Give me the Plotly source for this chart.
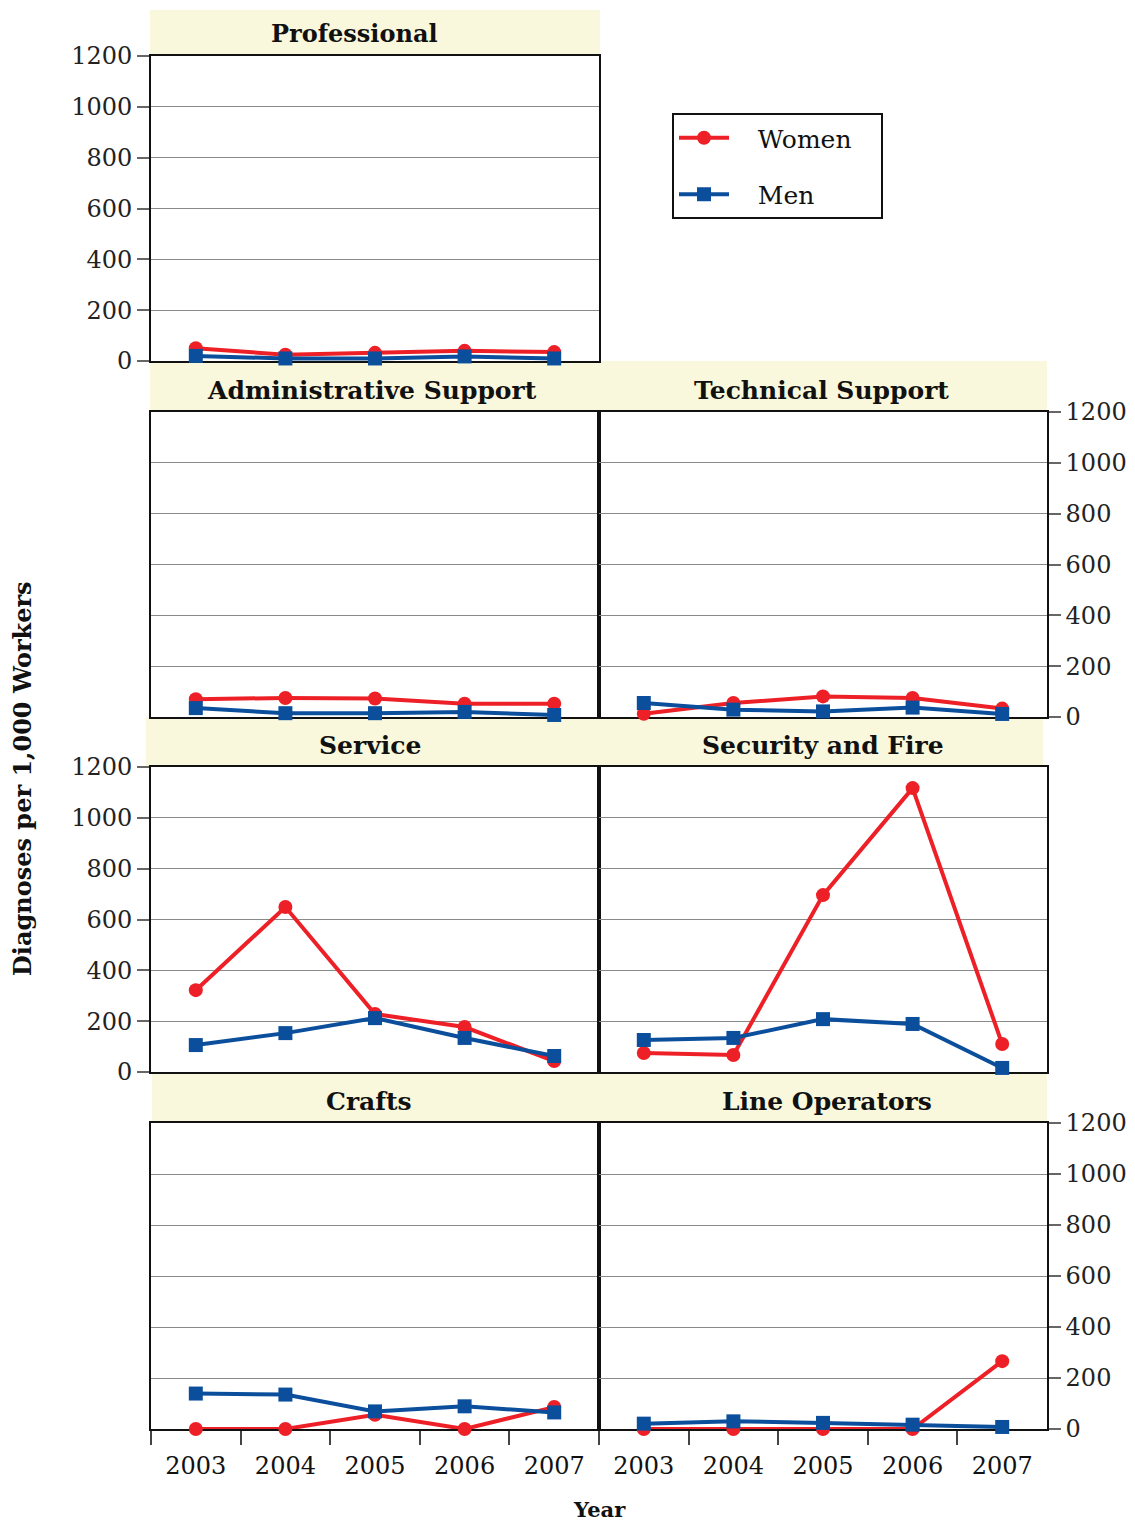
import plotly.graph_objects as go

# figure sized so that the page (with the default 8px body margin) fits the window exactly
W, H = 1119, 1517
OFF = 8

years = ["2003", "2004", "2005", "2006", "2007"]

panels = ["Professional", "Administrative Support", "Technical Support",
          "Service", "Security and Fire", "Crafts", "Line Operators"]

women_professional = [50, 25, 32, 40, 35]
men_professional = [20, 10, 10, 18, 10]
women_admin = [70, 75, 73, 52, 52]
men_admin = [35, 15, 15, 20, 8]
women_technical = [13, 55, 81, 75, 33]
men_technical = [55, 29, 22, 37, 12]
women_service = [322, 649, 228, 177, 43]
men_service = [106, 153, 212, 134, 63]
women_security = [75, 67, 696, 1117, 110]
men_security = [126, 134, 208, 189, 16]
women_crafts = [0, 0, 56, 0, 86]
men_crafts = [139, 135, 69, 89, 65]
women_lineops = [0, 0, 0, 0, 266]
men_lineops = [21, 30, 24, 17, 8]

women = [women_professional, women_admin, women_technical, women_service,
         women_security, women_crafts, women_lineops]
men = [men_professional, men_admin, men_technical, men_service,
       men_security, men_crafts, men_lineops]

y_ticks = [0, 200, 400, 600, 800, 1000, 1200]

# layout in reference-page pixels: (x0, x1, y_top, y_bottom), y-axis side, show x labels
geom = [
    (151, 599, 56, 361, "left", False),
    (151, 599, 412, 717, None, False),
    (599, 1047, 412, 717, "right", False),
    (151, 599, 767, 1072, "left", False),
    (599, 1047, 767, 1072, None, False),
    (151, 599, 1123, 1429, None, True),
    (599, 1047, 1123, 1429, "right", True),
]
headers = [
    (150, 600, 10, 56),
    (150, 1047, 361, 412),
    (150, 1047, 361, 412),
    (146, 1043, 717, 767),
    (146, 1043, 717, 767),
    (152, 1047, 1072, 1123),
    (152, 1047, 1072, 1123),
]
title_x = [354, 372, 821, 370, 823, 369, 827]

RED = "#EE2027"
BLUE = "#0B4F9C"
SERIF = "DejaVu Serif"

def px(x):
    return (x - OFF) / W

def py(y):
    return 1 - (y - OFF) / H

fig = go.Figure()
layout = dict(
    width=W, height=H, autosize=False,
    margin=dict(l=0, r=0, t=0, b=0, autoexpand=False),
    paper_bgcolor="white", plot_bgcolor="white",
    font=dict(family=SERIF, color="#111", size=22),
    shapes=[], annotations=[],
)

for i, (name, w, m, g, hd, tx) in enumerate(zip(panels, women, men, geom, headers, title_x)):
    x0, x1, yt, yb, side, showx = g
    k = i + 1
    xa = "x" if k == 1 else f"x{k}"
    ya = "y" if k == 1 else f"y{k}"
    fig.add_trace(go.Scatter(
        x=years, y=w, mode="lines+markers", name="\u00a0\u00a0\u00a0Women\u00a0\u00a0\u00a0",
        line=dict(color=RED, width=4), marker=dict(symbol="circle", size=14, color=RED),
        cliponaxis=False, xaxis=xa, yaxis=ya, showlegend=(i == 0), legendgroup="w"))
    fig.add_trace(go.Scatter(
        x=years, y=m, mode="lines+markers", name="\u00a0\u00a0\u00a0Men",
        line=dict(color=BLUE, width=4), marker=dict(symbol="square", size=14, color=BLUE),
        cliponaxis=False, xaxis=xa, yaxis=ya, showlegend=(i == 0), legendgroup="m"))

    xkey = "xaxis" if k == 1 else f"xaxis{k}"
    ykey = "yaxis" if k == 1 else f"yaxis{k}"
    layout[xkey] = dict(
        domain=[px(x0), px(x1)], anchor=ya, type="category",
        range=[-0.5, 4.5], showgrid=False, zeroline=False,
        showline=True, mirror=True, linecolor="#111", linewidth=1.6,
        ticks="outside" if showx else "", tickson="boundaries",
        ticklen=14, tickwidth=1.5, tickcolor="#444",
        showticklabels=showx, ticklabelstandoff=14,
        tickfont=dict(family=SERIF, size=24, color="#111"),
        layer="below traces",
    )
    ydict = dict(
        domain=[py(yb), py(yt)], anchor=xa, range=[0, 1200],
        tickvals=y_ticks, showgrid=True, gridcolor="#8a8a8a", gridwidth=1.3,
        zeroline=False, showline=True, mirror=True, linecolor="#111", linewidth=1.6,
        layer="below traces",
        tickfont=dict(family=SERIF, size=24, color="#222"),
    )
    if side is None:
        ydict.update(showticklabels=False, ticks="")
    else:
        ydict.update(side=side, ticks="outside", ticklen=12, tickwidth=1.5,
                     tickcolor="#666", showticklabels=True)
    layout[ykey] = ydict

    hx0, hx1, hy0, hy1 = hd
    layout["shapes"].append(dict(
        type="rect", xref="paper", yref="paper",
        x0=px(hx0), x1=px(hx1), y0=py(hy1), y1=py(hy0),
        fillcolor="#FAF8DC", line=dict(width=0), layer="below"))
    layout["annotations"].append(dict(
        text=f"<b>{name}</b>", xref="paper", yref="paper",
        x=px(tx), y=py(yt - 22), xanchor="center", yanchor="middle",
        showarrow=False, font=dict(family=SERIF, size=25 if i else 24, color="#111")))

layout["annotations"].append(dict(
    text="<b>Diagnoses per 1,000 Workers</b>", xref="paper", yref="paper",
    x=px(22), y=py(779), textangle=-90, xanchor="center", yanchor="middle",
    showarrow=False, font=dict(family=SERIF, size=24, color="#111")))
layout["annotations"].append(dict(
    text="<b>Year</b>", xref="paper", yref="paper",
    x=px(600), y=py(1509), xanchor="center", yanchor="middle",
    showarrow=False, font=dict(family=SERIF, size=21, color="#111")))

layout["legend"] = dict(
    x=px(672), y=py(113), xanchor="left", yanchor="top",
    bordercolor="#111", borderwidth=2, bgcolor="white",
    font=dict(family=SERIF, size=25, color="#111"),
    tracegroupgap=21, itemwidth=50,
)
layout["showlegend"] = True

fig.update_layout(**layout)
fig.write_html("out.html")
